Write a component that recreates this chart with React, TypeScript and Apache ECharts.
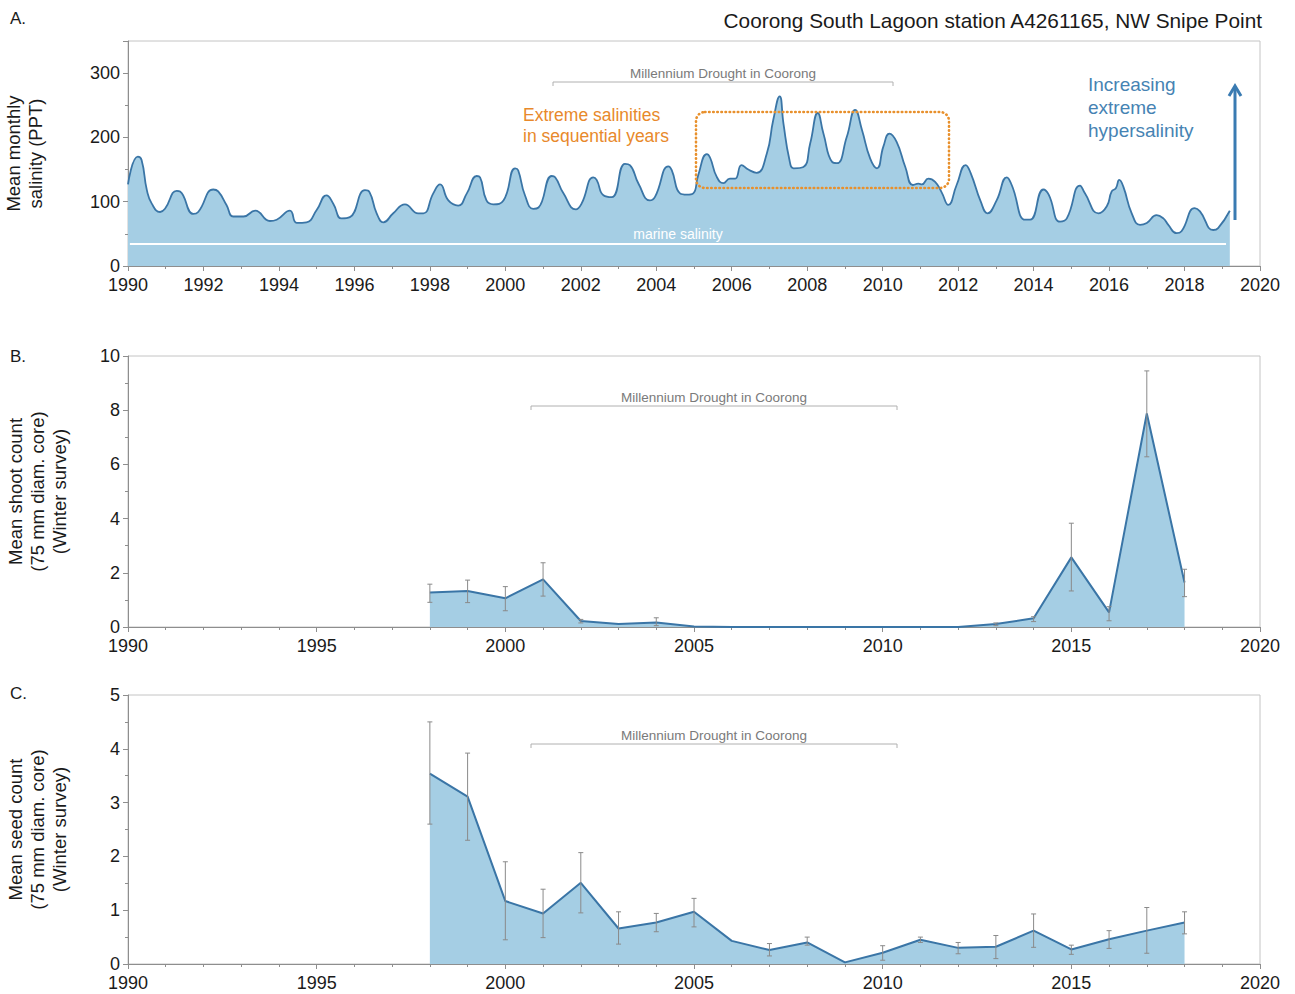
import React, { useEffect, useRef } from "react";
import * as echarts from "echarts";

// Panel A: mean monthly salinity (PPT) at peaks/troughs
const salinityYears = [
  1990.0, 1990.26, 1990.36, 1990.5, 1990.63, 1990.85, 1990.98, 1991.29, 1991.38, 1991.73,
  1991.86, 1992.26, 1992.39, 1992.61, 1992.79, 1993.06, 1993.37, 1993.76, 1993.94, 1994.29,
  1994.47, 1994.73, 1995.0, 1995.26, 1995.44, 1995.66, 1995.88, 1996.28, 1996.4, 1996.59,
  1996.77, 1997.03, 1997.34, 1997.69, 1997.83, 1998.09, 1998.27, 1998.49, 1998.75, 1998.98,
  1999.24, 1999.33, 1999.5, 1999.68, 1999.95, 2000.26, 2000.34, 2000.52, 2000.74, 2000.88,
  2001.23, 2001.32, 2001.54, 2001.87, 2002.02, 2002.33, 2002.42, 2002.6, 2002.82, 2003.17,
  2003.3, 2003.53, 2003.83, 2003.97, 2004.32, 2004.41, 2004.63, 2004.81, 2004.98, 2005.11,
  2005.34, 2005.43, 2005.6, 2005.78, 2005.95, 2006.09, 2006.26, 2006.44, 2006.66, 2006.93,
  2007.1, 2007.27, 2007.37, 2007.53, 2007.64, 2007.9, 2008.08, 2008.28, 2008.43, 2008.66,
  2008.79, 2009.05, 2009.27, 2009.45, 2009.67, 2009.85, 2010.02, 2010.18, 2010.37, 2010.6,
  2010.8, 2010.95, 2011.04, 2011.21, 2011.39, 2011.56, 2011.74, 2011.96, 2012.2, 2012.33,
  2012.6, 2012.78, 2013.02, 2013.29, 2013.42, 2013.78, 2013.91, 2014.26, 2014.4, 2014.7,
  2014.88, 2015.23, 2015.36, 2015.72, 2015.94, 2016.07, 2016.18, 2016.27, 2016.38, 2016.6,
  2016.82, 2017.0, 2017.26, 2017.44, 2017.57, 2017.79, 2017.92, 2018.27, 2018.41, 2018.76,
  2018.89, 2019.2,
];
const salinityValues = [
  127, 170, 165, 118, 97, 84, 89, 117, 116, 81,
  84, 119, 116, 95, 77, 77, 86, 70, 72, 86,
  67, 68, 87, 110, 97, 74, 76, 118, 115, 82,
  68, 82, 96, 82, 82, 113, 127, 102, 94, 113,
  140, 138, 102, 96, 102, 152, 149, 110, 89, 91,
  140, 138, 113, 88, 97, 138, 134, 110, 107, 159,
  157, 128, 102, 108, 155, 149, 113, 111, 113, 141,
  174, 168, 139, 129, 136, 136, 157, 150, 145, 175,
  227, 264, 222, 165, 152, 154, 191, 238, 206, 162,
  160, 201, 243, 212, 167, 152, 186, 206, 193, 154,
  126, 128, 127, 136, 131, 115, 95, 126, 157, 145,
  100, 82, 102, 138, 126, 72, 72, 119, 111, 69,
  74, 125, 113, 82, 93, 116, 121, 134, 123, 82,
  64, 67, 79, 74, 64, 51, 54, 90, 85, 56,
  59, 86,
];
const marineSalinity = 35;

// Panels B and C: winter surveys
const surveyYears = [
  1998, 1999, 2000, 2001, 2002, 2003, 2004, 2005, 2006, 2007, 2008,
  2009, 2010, 2011, 2012, 2013, 2014, 2015, 2016, 2017, 2018,
];
const shootMean = [
  1.27, 1.33, 1.06, 1.76, 0.22, 0.11, 0.17, 0.02, 0, 0, 0,
  0, 0, 0, 0, 0.11, 0.32, 2.57, 0.54, 7.88, 1.64,
];
const shootErrYears = [1998, 1999, 2000, 2001, 2002, 2004, 2013, 2014, 2015, 2016, 2017, 2018];
const shootErrLow = [0.91, 0.9, 0.6, 1.14, 0.15, 0.05, 0.05, 0.2, 1.33, 0.23, 6.28, 1.12];
const shootErrHigh = [1.58, 1.73, 1.49, 2.37, 0.28, 0.34, 0.15, 0.38, 3.83, 0.75, 9.45, 2.13];

const seedMean = [
  3.54, 3.11, 1.17, 0.94, 1.51, 0.66, 0.77, 0.97, 0.43, 0.26, 0.4,
  0.03, 0.21, 0.45, 0.3, 0.32, 0.62, 0.27, 0.46, 0.62, 0.77,
];
const seedErrYears = [1998, 1999, 2000, 2001, 2002, 2003, 2004, 2005, 2007, 2008, 2010, 2011, 2012, 2013, 2014, 2015, 2016, 2017, 2018];
const seedErrLow = [2.6, 2.3, 0.45, 0.49, 0.95, 0.37, 0.6, 0.69, 0.15, 0.35, 0.07, 0.4, 0.19, 0.1, 0.31, 0.18, 0.29, 0.2, 0.56];
const seedErrHigh = [4.5, 3.92, 1.9, 1.39, 2.07, 0.97, 0.94, 1.22, 0.38, 0.5, 0.34, 0.5, 0.4, 0.53, 0.93, 0.35, 0.62, 1.05, 0.97];

const FONT = "'Liberation Sans', Arial, Helvetica, sans-serif";
const AREA = "#a5cee4";
const LINE = "#3a75a6";
const AXIS = "#8e8e8e";
const TXT = "#1a1a1a";

function xAxis(gridIndex: number, interval: number, minorSplit: number) {
  return {
    type: "value",
    gridIndex,
    min: 1990,
    max: 2020,
    interval,
    axisLine: { show: true, onZero: false, lineStyle: { color: AXIS, width: 1 } },
    axisTick: { show: true, inside: false, length: 5, lineStyle: { color: AXIS } },
    minorTick: { show: true, splitNumber: minorSplit, length: 3, lineStyle: { color: AXIS } },
    splitLine: { show: false },
    axisLabel: {
      fontSize: 18,
      color: TXT,
      fontFamily: FONT,
      margin: 10,
      formatter: (v: number) => String(v),
    },
  };
}

function yAxis(gridIndex: number, max: number, interval: number, name: string, nameGap: number) {
  return {
    type: "value",
    gridIndex,
    min: 0,
    max,
    interval,
    name,
    nameLocation: "middle",
    nameGap,
    nameTextStyle: { fontSize: 18.5, color: TXT, fontFamily: FONT, lineHeight: 22 },
    axisLine: { show: true, lineStyle: { color: AXIS, width: 1 } },
    axisTick: { show: true, inside: false, length: 5, lineStyle: { color: AXIS } },
    minorTick: { show: true, splitNumber: 2, length: 3, lineStyle: { color: AXIS } },
    splitLine: { show: false },
    axisLabel: {
      fontSize: 18,
      color: TXT,
      fontFamily: FONT,
      margin: 8,
      showMaxLabel: max % interval === 0,
      formatter: (v: number) => String(v),
    },
  };
}

function errorSeries(xi: number, yrs: number[], lo: number[], hi: number[]) {
  return {
    type: "custom",
    xAxisIndex: xi,
    yAxisIndex: xi,
    silent: true,
    z: 5,
    encode: { x: 0, y: [1, 2] },
    data: yrs.map((y, i) => [y, lo[i], hi[i]]),
    renderItem: (_p: any, api: any) => {
      const top = api.coord([api.value(0), api.value(2)]);
      const bot = api.coord([api.value(0), api.value(1)]);
      const w = 2.5;
      const style = { stroke: "#8a8a8a", lineWidth: 1 };
      return {
        type: "group",
        children: [
          { type: "line", shape: { x1: top[0], y1: top[1], x2: bot[0], y2: bot[1] }, style },
          { type: "line", shape: { x1: top[0] - w, y1: top[1], x2: top[0] + w, y2: top[1] }, style },
          { type: "line", shape: { x1: bot[0] - w, y1: bot[1], x2: bot[0] + w, y2: bot[1] }, style },
        ],
      };
    },
  };
}

function surveySeries(xi: number, values: number[]) {
  return {
    type: "line",
    xAxisIndex: xi,
    yAxisIndex: xi,
    data: surveyYears.map((y, i) => [y, values[i]]),
    showSymbol: false,
    symbol: "none",
    lineStyle: { color: LINE, width: 2 },
    areaStyle: { color: AREA, opacity: 1, origin: "start" },
    z: 3,
  };
}

function bracket(x1: number, x2: number, y: number, label: string) {
  return [
    {
      type: "polyline",
      shape: { points: [[x1, y + 4], [x1, y], [x2, y], [x2, y + 4]] },
      style: { stroke: "#b0b0b0", lineWidth: 1, fill: null },
    },
    {
      type: "text",
      x: (x1 + x2) / 2,
      y: y - 9,
      style: { text: label, fontSize: 13.5, fill: "#7a7a7a", fontFamily: FONT, align: "center", verticalAlign: "middle" },
    },
  ];
}

export default function App() {
  const ref = useRef<HTMLDivElement>(null);
  useEffect(() => {
    if (!ref.current) return;
    const chart = echarts.init(ref.current, undefined, { renderer: "svg" });
    const gridBase = {
      left: 128,
      right: 35,
      show: true,
      borderColor: "#c4c4c4",
      borderWidth: 1,
      containLabel: false,
      outerBoundsMode: "none",
    };
    const option: any = {
      animation: false,
      backgroundColor: "#ffffff",
      textStyle: { fontFamily: FONT },
      grid: [
        { ...gridBase, top: 41, height: 225 },
        { ...gridBase, top: 356, height: 271 },
        { ...gridBase, top: 695, height: 269 },
      ],
      xAxis: [xAxis(0, 2, 2), xAxis(1, 5, 5), xAxis(2, 5, 5)],
      yAxis: [
        yAxis(0, 350, 100, "Mean monthly\nsalinity (PPT)", 82),
        yAxis(1, 10, 2, "Mean shoot count\n(75 mm diam. core)\n(Winter survey)", 58),
        yAxis(2, 5, 1, "Mean seed count\n(75 mm diam. core)\n(Winter survey)", 58),
      ],
      series: [
        {
          type: "line",
          xAxisIndex: 0,
          yAxisIndex: 0,
          data: salinityYears.map((y, i) => [y, salinityValues[i]]),
          smooth: 0.5,
          showSymbol: false,
          symbol: "none",
          lineStyle: { color: LINE, width: 1.8 },
          areaStyle: { color: AREA, opacity: 1, origin: "start" },
          z: 3,
          markLine: {
            silent: true,
            symbol: "none",
            lineStyle: { color: "#ffffff", width: 2, type: "solid" },
            label: {
              show: true,
              position: "middle",
              formatter: "marine salinity",
              color: "#ffffff",
              fontSize: 14,
              fontFamily: FONT,
              distance: 3,
            },
            data: [[{ coord: [1990.05, marineSalinity] }, { coord: [2019.1, marineSalinity] }]],
          },
        },
        surveySeries(1, shootMean),
        errorSeries(1, shootErrYears, shootErrLow, shootErrHigh),
        surveySeries(2, seedMean),
        errorSeries(2, seedErrYears, seedErrLow, seedErrHigh),
      ],
      graphic: [
        { type: "text", x: 10, y: 18, style: { text: "A.", fontSize: 17, fill: TXT, fontFamily: FONT, verticalAlign: "middle" } },
        { type: "text", x: 10, y: 356, style: { text: "B.", fontSize: 17, fill: TXT, fontFamily: FONT, verticalAlign: "middle" } },
        { type: "text", x: 10, y: 693, style: { text: "C.", fontSize: 17, fill: TXT, fontFamily: FONT, verticalAlign: "middle" } },
        {
          type: "text",
          x: 1262,
          y: 20,
          style: {
            text: "Coorong South Lagoon station A4261165, NW Snipe Point",
            fontSize: 20.8,
            fill: TXT,
            fontFamily: FONT,
            align: "right",
            verticalAlign: "middle",
          },
        },
        ...bracket(553, 893, 82, "Millennium Drought in Coorong"),
        ...bracket(531, 897, 406, "Millennium Drought in Coorong"),
        ...bracket(531, 897, 744, "Millennium Drought in Coorong"),
        {
          type: "rect",
          shape: { x: 696, y: 112, width: 253, height: 76, r: 9 },
          style: { fill: null, stroke: "#e8902c", lineWidth: 2.6, lineDash: [0.5, 3.6], lineCap: "round" },
          z: 10,
        },
        {
          type: "text",
          x: 523,
          y: 125,
          style: {
            text: "Extreme salinities\nin sequential years",
            fontSize: 17.5,
            lineHeight: 21,
            fill: "#e8892b",
            fontFamily: FONT,
            verticalAlign: "middle",
          },
        },
        {
          type: "text",
          x: 1088,
          y: 107,
          style: {
            text: "Increasing\nextreme\nhypersalinity",
            fontSize: 19,
            lineHeight: 23,
            fill: "#4683b3",
            fontFamily: FONT,
            verticalAlign: "middle",
          },
        },
        { type: "line", shape: { x1: 1235, y1: 220, x2: 1235, y2: 87 }, style: { stroke: "#3a7bb2", lineWidth: 3 } },
        {
          type: "polyline",
          shape: { points: [[1229, 96], [1235, 86], [1241, 96]] },
          style: { stroke: "#3a7bb2", lineWidth: 3, fill: null },
        },
      ],
    };
    chart.setOption(option);
    return () => chart.dispose();
  }, []);
  return <div ref={ref} style={{ position: "fixed", left: 0, top: 0, width: 1295, height: 994 }} />;
}
